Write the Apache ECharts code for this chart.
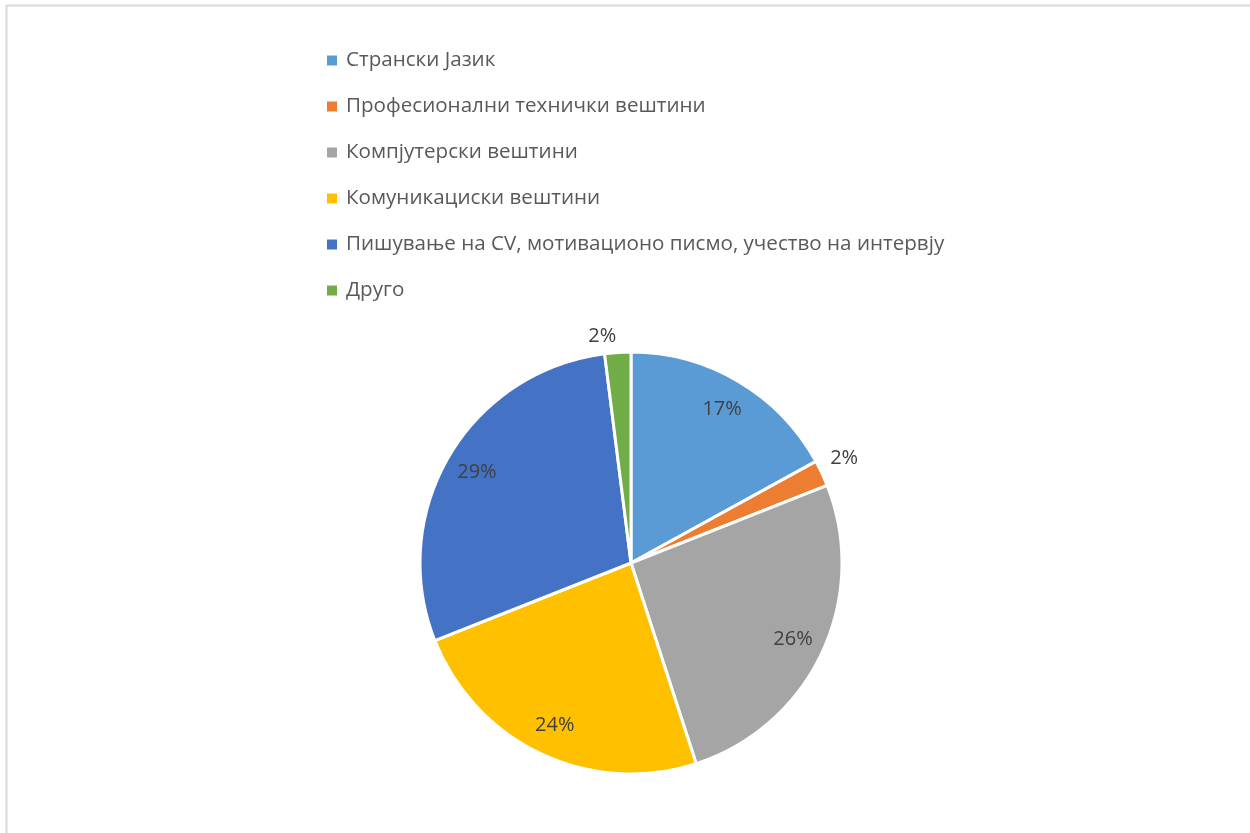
<!DOCTYPE html>
<html>
<head>
<meta charset="utf-8">
<script src="https://cdn.jsdelivr.net/npm/echarts@6/dist/echarts.min.js"></script>
<style>
  html, body { margin: 0; padding: 0; background: #ffffff; }
  #chart { width: 1250px; height: 833px; }
</style>
</head>
<body>
<div id="chart"></div>
<script>
// Skill categories and their shares (percent)
const categories = [
  'Странски Јазик',
  'Професионални технички вештини',
  'Компјутерски вештини',
  'Комуникациски вештини',
  'Пишување на CV, мотивационо писмо, учество на интервју',
  'Друго'
];
const shares = [17, 2, 26, 24, 29, 2];
const colors = ['#5b9bd5', '#ed7d31', '#a5a5a5', '#ffc000', '#4472c4', '#70ad47'];

// Small slices get their label outside, the rest inside near the rim
const smallLimit = 5;

const FONT = '"Open Sans", "Noto Sans", sans-serif';
const LEGEND_SIZE = 20.6;
const LABEL_SIZE = 20;
const center = [631, 563];
const radius = 211;

const pieData = categories.map((name, i) => ({
  name,
  value: shares[i],
  itemStyle: { color: colors[i] },
  label: { show: shares[i] < smallLimit }
}));

const ringData = categories.map((name, i) => ({
  name,
  value: shares[i],
  label: { show: shares[i] >= smallLimit }
}));

// nudges for the outside labels of the thin slices
const outsideNudge = { 1: [-4, -11], 5: [4, -8] };

const chart = echarts.init(document.getElementById('chart'), null, { renderer: 'canvas' });

chart.setOption({
  animation: false,
  backgroundColor: '#ffffff',
  graphic: [{
    type: 'rect',
    shape: { x: 6.5, y: 5.5, width: 1400, height: 1000 },
    style: { fill: 'none', stroke: '#d9d9d9', lineWidth: 2 },
    silent: true
  }],
  legend: {
    orient: 'vertical',
    left: 322,
    top: 45,
    itemWidth: 10,
    itemHeight: 10,
    itemGap: 25,
    icon: 'rect',
    itemStyle: { borderWidth: 0 },
    data: categories.map((name, i) => ({ name, itemStyle: { color: colors[i], borderWidth: 0 } })),
    textStyle: { color: '#595959', fontSize: LEGEND_SIZE, fontFamily: FONT, padding: [0, 0, 0, 4] },
    selectedMode: false
  },
  series: [
    {
      type: 'pie',
      center: center,
      radius: [0, radius],
      startAngle: 90,
      clockwise: true,
      silent: true,
      itemStyle: { borderColor: '#ffffff', borderWidth: 3 },
      label: {
        position: 'outside',
        formatter: p => p.value + '%',
        color: '#404040',
        fontSize: LABEL_SIZE,
        fontFamily: FONT
      },
      labelLine: { show: false, length: 8, length2: 0 },
      labelLayout: p => {
        const n = outsideNudge[p.dataIndex];
        return n ? { dx: n[0], dy: n[1] } : {};
      },
      data: pieData
    },
    {
      // transparent ring used only to place the inner labels near the rim
      type: 'pie',
      center: center,
      radius: [141, radius],
      startAngle: 90,
      clockwise: true,
      silent: true,
      itemStyle: { color: 'rgba(0,0,0,0)' },
      label: {
        position: 'inside',
        formatter: p => p.value + '%',
        color: '#404040',
        fontSize: LABEL_SIZE,
        fontFamily: FONT
      },
      labelLine: { show: false },
      data: ringData
    }
  ]
});
</script>
</body>
</html>
